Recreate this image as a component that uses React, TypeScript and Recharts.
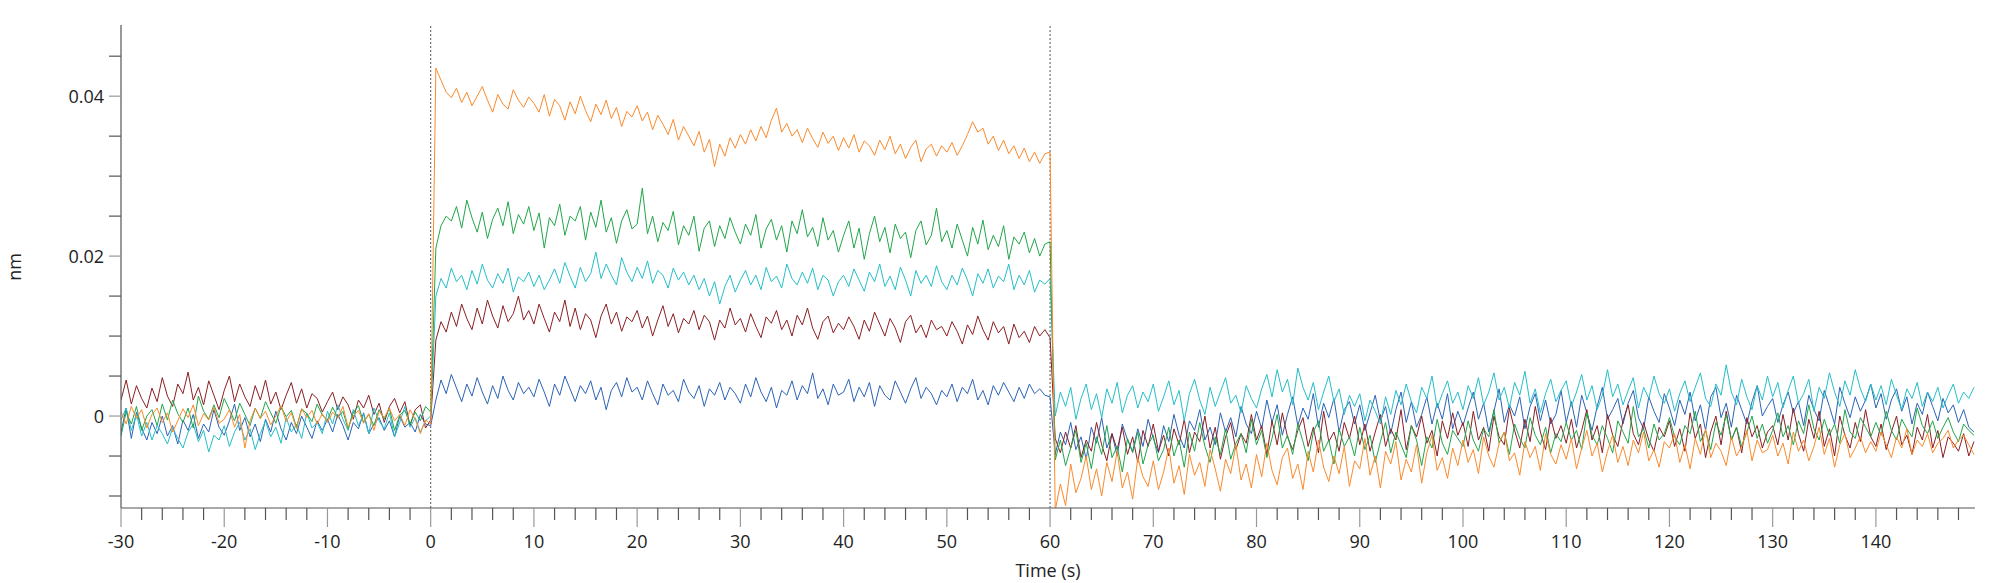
import React from 'react'
import { LineChart, Line, XAxis, YAxis, ReferenceLine } from 'recharts'

// traces are sampled every 0.5 s starting at -30 s
const T_START = -30
const T_STEP = 0.5

// responses in units of 1e-4 nm, one line per 10 s block
const orange = [
  5, -10, 12, -3, 8, -15, 2, 10, -8, 4, -20, -6, 9, -2, 14, -12, 3, -5, 11, -9,
  -4, 8, -14, 2, -40, -6, 10, -3, 6, -11, 0, 13, -7, 4, -16, 9, -2, 7, -10, 3,
  -8, 5, -3, 12, -14, 0, 7, -9, 3, -18, 6, -2, 10, -6, 2, -12, 8, -4, -22, -5,
  -10, 435, 420, 405, 398, 410, 392, 405, 388, 400, 412, 395, 380, 402, 390, 384, 408, 395, 386, 399,
  391, 380, 402, 375, 396, 388, 370, 393, 378, 400, 382, 368, 390, 377, 395, 372, 386, 362, 381, 374,
  388, 369, 380, 358, 376, 365, 352, 371, 345, 362, 350, 338, 356, 330, 346, 312, 340, 325, 348, 335,
  352, 340, 358, 344, 362, 348, 370, 385, 355, 366, 350, 358, 342, 360, 347, 336, 355, 341, 350, 332,
  348, 335, 352, 330, 344, 338, 326, 345, 333, 350, 328, 340, 322, 336, 345, 318, 334, 340, 325, 338,
  330, 342, 326, 338, 352, 368, 355, 360, 340, 350, 332, 345, 328, 338, 322, 335, 318, 330, 316, 328,
  330, -118, -85, -112, -60, -96, -78, -50, -92, -66, -100, -58, -82, -44, -90, -70, -104, -52, -76, -88,
  -56, -92, -70, -40, -84, -62, -98, -48, -74, -58, -88, -42, -66, -94, -54, -72, -36, -80, -60, -90,
  -48, -76, -34, -68, -86, -52, -40, -78, -60, -92, -44, -70, -30, -64, -82, -50, -72, -38, -88, -56,
  -66, -28, -74, -50, -90, -44, -60, -32, -80, -54, -70, -36, -84, -46, -24, -68, -52, -78, -40, -62,
  -30, -58, -42, -72, -26, -50, -64, -34, -20, -56, -46, -74, -32, -52, -38, -68, -22, -48, -60, -36,
  -54, -28, -66, -40, -18, -50, -34, -70, -44, -24, -58, -38, -62, -30, -46, -20, -56, -42, -64, -32,
  -40, -22, -58, -36, -66, -28, -48, -16, -52, -34, -44, -62, -26, -50, -38, -18, -56, -30, -46, -42,
  -24, -50, -34, -60, -20, -44, -30, -56, -38, -14, -48, -28, -64, -36, -22, -52, -40, -26, -46, -32,
  -44, -20, -36, -52, -26, -40, -16, -48, -30, -38, -22, -46, -34, -28, -18, -40, -30, -24, -36, -48,
]

const green = [
  -25, 5, -10, 12, -18, 0, 8, -12, 15, -5, 20, 3, -8, 10, -15, 25, 6, -4, 14, -2,
  22, 8, -6, 16, 2, -12, 10, -3, 18, 4, -9, 12, -1, 7, -14, 9, 3, -7, 15, 1,
  -5, 11, -2, 6, -16, 4, 13, -8, 2, -12, 8, -4, 10, -18, 1, 7, -10, 5, -6, 12,
  5, 210, 238, 250, 244, 262, 235, 270, 248, 230, 255, 222, 246, 260, 238, 268, 228, 252, 240, 262,
  232, 254, 210, 248, 238, 265, 226, 250, 244, 262, 220, 255, 236, 270, 230, 248, 216, 244, 258, 234,
  240, 285, 228, 250, 218, 242, 232, 256, 214, 238, 226, 250, 206, 235, 244, 212, 238, 222, 248, 230,
  215, 240, 226, 252, 210, 234, 246, 220, 238, 205, 244, 228, 258, 224, 236, 212, 248, 220, 232, 205,
  226, 244, 210, 235, 196, 228, 250, 218, 236, 204, 240, 222, 230, 198, 232, 244, 214, 226, 260, 218,
  232, 210, 240, 220, 200, 236, 215, 245, 208, 226, 212, 238, 196, 224, 215, 230, 204, 222, 200, 215,
  218, -55, -30, -62, -40, -18, -58, -34, -66, -26, -48, -12, -52, -38, -70, -28, -46, -20, -60, -36,
  -24, -56, -42, -14, -50, -30, -64, -20, -44, -8, -38, -58, -26, -48, -16, -54, -34, -22, -46, -4,
  -36, -18, -52, -28, 2, -40, -24, -48, -10, -32, -56, -20, -6, -44, -30, -60, -16, -38, -26, -50,
  -14, -42, -24, -58, -32, -8, -46, -20, -36, -52, -12, -30, -62, -26, -40, -4, -34, -48, -18, -28,
  -38, -6, -30, -44, -16, -26, 8, -34, -20, -48, -10, -28, -40, -2, -24, -36, -14, -46, -22, -32,
  -8, -30, -18, -42, 4, -24, -36, -12, -28, -46, -6, -20, -34, 12, -26, -16, -40, -10, -30, -22,
  -2, -26, -36, -12, -22, 6, -32, -18, -42, -8, -24, 2, -30, -14, -38, -20, 0, -28, -10, -34,
  -18, 4, -26, -12, -36, -6, -22, 14, -16, -30, -4, -24, -10, -34, 8, -20, -28, -2, -14, -26,
  -8, -24, 6, -18, -30, -4, -16, -26, 10, -12, -22, -6, -28, -14, -2, -20, -32, -10, -18, -24,
]

const cyan = [
  -5, 10, -18, 2, -25, -8, -30, -12, -22, -35, -15, -28, -40, -20, -10, -32, -18, -45, -24, -30,
  -12, -38, -20, -8, -30, -16, -42, -22, -6, -26, -14, -34, -2, -20, -10, -28, 4, -15, -8, -22,
  6, -10, 14, -4, -18, 8, -12, 2, -22, 10, -6, -16, 4, -26, -8, 12, -14, -2, -20, -6,
  0, 150, 172, 160, 185, 168, 176, 158, 182, 165, 190, 170, 160, 178, 166, 185, 155, 174, 168, 180,
  162, 176, 158, 170, 184, 166, 192, 175, 160, 186, 168, 178, 205, 172, 190, 176, 164, 198, 180, 168,
  186, 172, 194, 166, 182, 176, 160, 185, 170, 180, 164, 176, 158, 172, 150, 168, 140, 162, 176, 155,
  170, 182, 164, 176, 158, 186, 168, 175, 160, 190, 172, 164, 180, 166, 185, 158, 176, 170, 150, 168,
  176, 162, 184, 170, 156, 180, 168, 190, 162, 175, 158, 186, 170, 150, 182, 166, 176, 162, 188, 168,
  158, 176, 164, 185, 170, 150, 178, 166, 184, 160, 175, 168, 190, 158, 176, 164, 182, 155, 170, 165,
  172, 0, 30, 12, 36, -4, 22, 40, 8, 28, -2, 34, 16, 42, 4, 26, 38, 10, 30, 18,
  40, 6, 24, 44, 14, 32, -6, 28, 46, 20, 2, 36, 12, 30, 48, 16, 26, 4, 38, 22,
  10, 34, 52, 24, 58, 30, 46, 14, 60, 36, 20, 42, 8, 30, 50, 18, 34, 2, 26, 12,
  28, -6, 20, 6, -10, 24, 2, 32, 14, 40, 18, 4, 36, 22, 50, 10, 28, 44, 16, 30,
  8, 38, 22, 48, 14, 30, 54, 20, 36, 10, 42, 26, 56, 16, 34, 4, 28, 46, 18, 32,
  44, 12, 30, 52, 20, 38, 8, 26, 58, 24, 40, 14, 32, 48, 10, 36, 22, 50, 28, 16,
  34, 6, 28, 44, 18, 36, 54, 22, 12, 40, 26, 64, 30, 14, 46, 24, 8, 38, 20, 50,
  24, 42, 10, 32, 50, 16, 28, 46, 6, 36, 22, 54, 30, 12, 44, 26, 58, 34, 18, 40,
  20, 38, 14, 46, 26, 8, 34, 22, 42, 12, 30, 18, 36, 10, 26, 40, 16, 30, 22, 36,
]

const darkRed = [
  20, 45, 15, 38, 22, 10, 35, 18, 48, 25, 12, 40, 28, 55, 20, 36, 14, 44, 26, 8,
  32, 50, 18, 40, 24, 12, 38, 20, 45, 15, 30, 8, 26, 42, 16, 34, 10, 28, 22, 5,
  18, 30, 8, 24, 14, -4, 20, 10, 26, 2, 16, -8, 12, 22, 4, 18, -12, 8, 14, -15,
  -5, 95, 118, 105, 130, 112, 140, 122, 108, 135, 115, 145, 125, 110, 138, 118, 128, 150, 120, 132,
  115, 140, 122, 105, 130, 118, 145, 112, 135, 108, 128, 120, 98, 125, 140, 115, 130, 106, 124, 118,
  132, 110, 125, 100, 120, 138, 112, 128, 104, 122, 115, 132, 108, 126, 118, 95, 120, 110, 135, 114,
  122, 105, 128, 112, 98, 124, 116, 132, 108, 120, 100, 126, 114, 135, 110, 96, 118, 125, 104, 116,
  108, 124, 112, 96, 120, 106, 130, 115, 100, 122, 110, 92, 118, 126, 104, 114, 98, 120, 108, 112,
  100, 118, 106, 90, 114, 102, 125, 108, 95, 118, 104, 112, 90, 115, 98, 106, 92, 112, 100, 108,
  98, -28, -46, -20, -40, -12, -52, -30, -44, -8, -36, -56, -22, -42, -14, -48, -26, -58, -18, -38,
  -10, -44, -24, -50, -16, -36, -4, -46, -20, -32, 0, -40, -14, -54, -26, -8, -42, -22, -34, 2,
  -30, -12, -48, -6, -36, 4, -26, -42, -18, -2, -38, -14, -46, 6, -32, -20, -44, -8, -28, 0,
  -36, -10, -44, -20, 2, -38, -16, -30, 8, -42, -12, -26, 0, -34, -18, -50, -6, -28, 4, -24,
  -8, -38, 6, -30, -14, -44, 0, -26, -36, 10, -18, -40, -4, -32, 12, -20, -42, -2, -28, -12,
  -34, -4, -40, -18, 8, -30, -12, -46, 2, -24, -38, -6, 14, -22, -36, -8, -30, -44, -14, -26,
  -6, -38, -16, -44, 4, -28, -10, -52, -20, 0, -36, 6, -30, -14, -46, -2, -26, -12, -40, -20,
  -12, -36, 2, -30, 10, -22, -44, -4, -28, 6, -38, -16, -50, 0, -24, -40, -8, -32, 8, -26,
  -38, -10, -42, -20, 0, -36, -24, -48, -14, -30, 2, -40, -18, -52, -26, -34, -44, -22, -50, -32,
]

const blue = [
  -20, 10, -28, 5, -15, -30, -8, -22, 0, -25, -12, -35, -5, -18, 2, -28, -10, -20, 8, -14,
  -24, -6, 15, -18, -2, -26, -10, -32, -4, -20, 6, -16, -30, -8, -22, 0, -14, -28, -6, -18,
  -4, -20, 2, -12, -30, -8, -16, 4, -22, -10, -2, -18, -6, -26, 0, -14, -8, -20, 2, -10,
  -12, 20, 45, 28, 52, 35, 18, 40, 25, 48, 30, 15, 38, 22, 50, 32, 20, 42, 28, 36,
  24, 46, 30, 12, 40, 26, 50, 34, 18, 38, 28, 44, 20, 36, 8, 32, 42, 24, 48, 30,
  36, 20, 44, 28, 14, 40, 26, 32, 18, 46, 30, 22, 38, 12, 34, 26, 42, 20, 36, 28,
  16, 40, 24, 48, 30, 18, 36, 10, 32, 26, 44, 20, 38, 28, 54, 22, 34, 14, 40, 26,
  30, 46, 18, 36, 24, 42, 12, 38, 26, 20, 44, 30, 16, 34, 48, 22, 36, 28, 14, 32,
  24, 40, 18, 36, 28, 46, 20, 32, 14, 38, 26, 42, 30, 18, 36, 22, 40, 28, 34, 26,
  24, -48, -20, -36, -8, -42, -26, -54, -14, -34, -2, -40, -22, -50, -10, -30, -44, -16, -38, -4,
  -28, -46, -12, -32, 2, -24, -40, -6, -18, 8, -30, -14, -36, 4, -20, -2, -26, 12, -10, -22,
  6, -16, 20, -8, 14, -24, 2, 24, -12, 10, -4, 28, -14, 16, -2, 22, -20, 8, 18, -10,
  14, -18, 4, 26, -6, 12, -22, 8, 30, -8, 18, -14, 2, 24, -10, 16, -4, 28, -16, 6,
  -12, 10, 30, -4, 16, -20, 6, 34, -8, 14, 0, 24, -16, 12, 28, -6, 20, -10, 2, 32,
  -8, 18, -14, 26, 4, -18, 12, 36, -4, 8, 22, -10, 16, 32, -2, -16, 24, 6, -8, 28,
  10, -12, 20, 2, 30, -6, 14, -18, 24, 36, -2, 16, -14, 26, 8, -10, 18, 38, 0, 12,
  22, -8, 14, 30, 4, 18, -12, 26, 8, -6, 32, 12, -10, 36, 16, -2, 24, 6, 20, 40,
  10, 28, -4, 20, 34, 6, 24, -10, 16, 2, 30, 12, -6, 22, 4, 14, -8, 8, -14, -20,
]

// axis ticks
const xMajorTicks = [-30, -20, -10, 0, 10, 20, 30, 40, 50, 60, 70, 80, 90, 100, 110, 120, 130, 140]
const xMinorStep = 2
const yTicks = [-0.01, -0.005, 0, 0.005, 0.01, 0.015, 0.02, 0.025, 0.03, 0.035, 0.04, 0.045]
const yLabelled = ['0', '0.02', '0.04']
const injectionTimes = [0, 60]

const series = [
  { key: 'blue', values: blue, color: '#2b63b6' },
  { key: 'darkRed', values: darkRed, color: '#8a1f24' },
  { key: 'cyan', values: cyan, color: '#25bec8' },
  { key: 'green', values: green, color: '#21a64a' },
  { key: 'orange', values: orange, color: '#fb8a2c' },
]

const data = orange.map((_, i) => {
  const row: Record<string, number> = { t: T_START + i * T_STEP }
  series.forEach((s) => {
    row[s.key] = s.values[i] / 10000
  })
  return row
})

const xTicks: number[] = []
for (let v = xMajorTicks[0]; v <= 148; v += xMinorStep) xTicks.push(v)

const FONT = '"Open Sans", sans-serif'

const XTick = (props: any) => {
  const { x, y, payload } = props
  const major = payload.value % 10 === 0
  return (
    <g>
      <line x1={x} x2={x} y1={y} y2={y + (major ? 19 : 12)} stroke={major ? '#999' : '#555'} strokeWidth={1.2} />
      {major && (
        <text x={x} y={y + 33} textAnchor="middle" dominantBaseline="central" fontSize={18} fontFamily={FONT} fill="#222">
          {payload.value}
        </text>
      )}
    </g>
  )
}

const YTick = (props: any) => {
  const { x, y, payload } = props
  const label = String(Math.round(payload.value * 1000) / 1000)
  const major = yLabelled.includes(label)
  return (
    <g>
      <line x1={x - 12} x2={x} y1={y} y2={y} stroke={major ? '#999' : '#555'} strokeWidth={1.2} />
      {major && (
        <text x={x - 17} y={y} textAnchor="end" dominantBaseline="central" fontSize={18} fontFamily={FONT} fill="#222">
          {label}
        </text>
      )}
    </g>
  )
}

export default function App() {
  return (
    <div style={{ position: 'absolute', left: 0, top: 0, width: 2000, height: 583, background: '#fff', overflow: 'hidden' }}>
      <LineChart width={2000} height={583} data={data} margin={{ top: 25, right: 25, left: 0, bottom: 0 }}>
        <XAxis
          dataKey="t"
          type="number"
          domain={[-30, 149.6]}
          allowDataOverflow
          ticks={xTicks}
          interval={0}
          tickSize={0}
          tickMargin={0}
          tickLine={false}
          axisLine={{ stroke: '#555', strokeWidth: 1.2 }}
          tick={<XTick />}
          height={75}
        />
        <YAxis
          type="number"
          domain={[-0.0115, 0.0489]}
          allowDataOverflow
          ticks={yTicks}
          interval={0}
          tickSize={0}
          tickMargin={0}
          tickLine={false}
          axisLine={{ stroke: '#555', strokeWidth: 1.2 }}
          tick={<YTick />}
          width={121}
        />
        {injectionTimes.map((t) => (
          <ReferenceLine key={t} x={t} stroke="#555" strokeDasharray="2 2" />
        ))}
        {series.map((s) => (
          <Line
            key={s.key}
            type="linear"
            dataKey={s.key}
            stroke={s.color}
            strokeWidth={1}
            dot={false}
            activeDot={false}
            isAnimationActive={false}
          />
        ))}
      </LineChart>
      <svg width={2000} height={583} style={{ position: 'absolute', left: 0, top: 0, pointerEvents: 'none' }}>
        <text x={1048} y={570} textAnchor="middle" dominantBaseline="central" fontSize={18} fontFamily={FONT} fill="#222">
          Time (s)
        </text>
        <text
          x={14}
          y={267}
          textAnchor="middle"
          dominantBaseline="central"
          fontSize={18}
          fontFamily={FONT}
          fill="#222"
          transform="rotate(-90 14 267)"
        >
          nm
        </text>
      </svg>
    </div>
  )
}
